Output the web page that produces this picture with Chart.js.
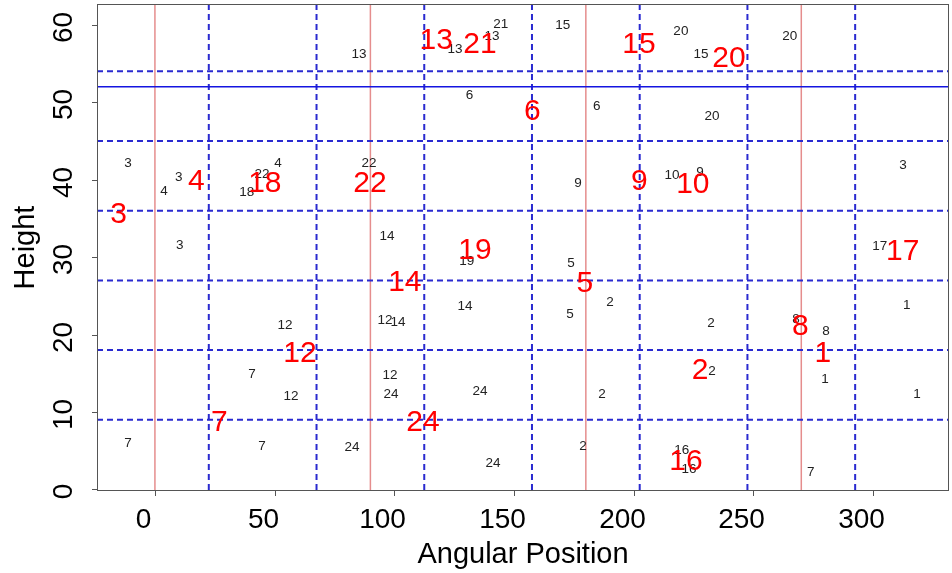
<!DOCTYPE html>
<html lang="en">
<head>
<meta charset="UTF-8">
<title>Height vs Angular Position</title>
<style>
  body { margin: 0; background: #fff; }
  canvas { display: block; }
</style>
</head>
<body>
<canvas id="chart" width="952" height="573"></canvas>
<script src="https://cdn.jsdelivr.net/npm/chart.js"></script>
<script>
// axis ticks
const xTicks = [0, 50, 100, 150, 200, 250, 300];
const yTicks = [0, 10, 20, 30, 40, 50, 60];

// reference lines
const redX = [0, 90, 180, 270];
const dashX = [22.5, 67.5, 112.5, 157.5, 202.5, 247.5, 292.5];
const dashY = [9, 18, 27, 36, 45, 54];
const solidY = [52];

// small black labels
const smallText = ["3", "3", "4", "22", "4", "18", "13", "22", "13", "21", "13", "15", "20", "15",
  "6", "6", "20", "9", "10", "9", "20", "3", "3", "14", "19", "14", "12", "12", "14", "12", "7",
  "5", "5", "2", "2", "8", "8", "17", "1", "1", "2", "7", "12", "24", "7", "24", "24", "2", "24",
  "2", "16", "16", "1", "7"];
const smallX = [-11.3, 10.0, 3.8, 44.7, 51.4, 38.4, 85.2, 89.4, 125.3, 144.5, 140.8, 170.4, 219.7, 228.1,
  131.4, 184.6, 232.7, 176.7, 216.0, 227.7, 265.2, 312.5, 10.4, 96.9, 130.3, 129.5, 54.3, 96.1, 101.5, 98.2, 40.5,
  173.8, 173.4, 190.1, 232.3, 267.8, 280.3, 302.8, 314.1, 279.9, 232.7, -11.3, 56.8, 98.6, 44.7, 82.3, 135.8, 186.7, 141.2,
  178.8, 220.1, 223.1, 318.3, 274.0];
const smallY = [42.3, 40.4, 38.7, 40.9, 42.3, 38.5, 56.4, 42.3, 57.0, 60.2, 58.7, 60.1, 59.3, 56.4,
  51.1, 49.6, 48.3, 39.7, 40.7, 41.1, 58.7, 42.0, 31.7, 32.9, 29.6, 23.8, 21.4, 22.0, 21.7, 14.9, 15.0,
  29.4, 22.8, 24.3, 21.6, 22.1, 20.6, 31.5, 23.9, 14.4, 15.4, 6.1, 12.2, 12.5, 5.7, 5.6, 12.8, 12.4, 3.5,
  5.7, 5.2, 2.8, 12.4, 2.3];

// big red labels
const bigText = ["3", "4", "18", "22", "13", "21", "6", "15", "20", "9", "10", "19", "14", "5",
  "17", "8", "1", "12", "2", "7", "24", "16"];
const bigX = [-15.2, 17.3, 45.9, 89.8, 117.5, 135.8, 157.7, 202.2, 239.8, 202.4, 224.7, 133.7, 104.4, 179.6,
  312.4, 269.6, 279.0, 60.6, 227.7, 26.9, 112.0, 221.8];
const bigY = [35.8, 40.1, 39.8, 39.8, 58.3, 57.8, 49.1, 57.8, 55.9, 40.1, 39.7, 31.2, 27.0, 26.9,
  31.0, 21.3, 17.9, 17.9, 15.6, 8.9, 8.9, 3.9];

const FONT = "'Liberation Sans', Arial, sans-serif";

function toPoints(xs, ys) {
  return xs.map((x, i) => ({ x: x, y: ys[i] }));
}

// grid / reference lines behind the labels
const refLines = {
  id: "refLines",
  beforeDatasetsDraw(chart) {
    const ctx = chart.ctx;
    const a = chart.chartArea;
    const xs = chart.scales.x, ys = chart.scales.y;
    ctx.save();
    ctx.beginPath();
    ctx.rect(a.left, a.top, a.right - a.left, a.bottom - a.top);
    ctx.clip();

    ctx.strokeStyle = "rgba(215, 80, 80, 0.65)";
    ctx.lineWidth = 1.5;
    redX.forEach(v => {
      const px = xs.getPixelForValue(v);
      ctx.beginPath(); ctx.moveTo(px, a.top); ctx.lineTo(px, a.bottom); ctx.stroke();
    });

    ctx.strokeStyle = "#2a2ad0";
    ctx.lineWidth = 2;
    ctx.setLineDash([6, 4]);
    dashX.forEach(v => {
      const px = xs.getPixelForValue(v);
      ctx.beginPath(); ctx.moveTo(px, a.top); ctx.lineTo(px, a.bottom); ctx.stroke();
    });
    dashY.forEach(v => {
      const py = ys.getPixelForValue(v);
      ctx.beginPath(); ctx.moveTo(a.left, py); ctx.lineTo(a.right, py); ctx.stroke();
    });

    ctx.setLineDash([]);
    ctx.strokeStyle = "#1515e0";
    ctx.lineWidth = 1.5;
    solidY.forEach(v => {
      const py = ys.getPixelForValue(v);
      ctx.beginPath(); ctx.moveTo(a.left, py); ctx.lineTo(a.right, py); ctx.stroke();
    });
    ctx.restore();
  }
};

// text at every point
const pointLabels = {
  id: "pointLabels",
  afterDatasetsDraw(chart) {
    const ctx = chart.ctx;
    chart.data.datasets.forEach((ds, i) => {
      const meta = chart.getDatasetMeta(i);
      ctx.save();
      ctx.font = ds.labelSize + "px " + FONT;
      ctx.fillStyle = ds.labelColor;
      ctx.textAlign = "center";
      ctx.textBaseline = "alphabetic";
      meta.data.forEach((el, j) => {
        ctx.fillText(ds.labels[j], el.x, el.y + ds.labelSize * 0.358);
      });
      ctx.restore();
    });
  }
};

// R-style box, ticks and titles
const axesBox = {
  id: "axesBox",
  beforeDraw(chart) {
    const ctx = chart.ctx;
    ctx.save();
    ctx.fillStyle = "#fff";
    ctx.fillRect(0, 0, chart.width, chart.height);
    ctx.restore();
  },
  afterDraw(chart) {
    const ctx = chart.ctx;
    const a = chart.chartArea;
    const xs = chart.scales.x, ys = chart.scales.y;
    ctx.save();
    ctx.strokeStyle = "#555";
    ctx.lineWidth = 1;
    ctx.strokeRect(a.left + 0.5, a.top + 0.5, a.right - a.left - 1, a.bottom - a.top - 1);

    ctx.fillStyle = "#000";
    ctx.font = "28px " + FONT;
    ctx.textAlign = "center";
    ctx.textBaseline = "alphabetic";
    xTicks.forEach(v => {
      const px = Math.round(xs.getPixelForValue(v)) + 0.5;
      ctx.beginPath(); ctx.moveTo(px, a.bottom); ctx.lineTo(px, a.bottom + 5); ctx.stroke();
      ctx.fillText(String(v), px - 12, 528);
    });
    yTicks.forEach(v => {
      const py = Math.round(ys.getPixelForValue(v)) + 0.5;
      ctx.beginPath(); ctx.moveTo(a.left, py); ctx.lineTo(a.left - 5, py); ctx.stroke();
      ctx.save();
      ctx.translate(72, py + 2);
      ctx.rotate(-Math.PI / 2);
      ctx.fillText(String(v), 0, 0);
      ctx.restore();
    });

    ctx.font = "29px " + FONT;
    ctx.fillText("Angular Position", (a.left + a.right) / 2, 563);
    ctx.save();
    ctx.translate(34, (a.top + a.bottom) / 2);
    ctx.rotate(-Math.PI / 2);
    ctx.fillText("Height", 0, 0);
    ctx.restore();
    ctx.restore();
  }
};

const ctx = document.getElementById("chart").getContext("2d");
new Chart(ctx, {
  type: "scatter",
  data: {
    datasets: [
      {
        data: toPoints(smallX, smallY),
        labels: smallText,
        labelSize: 13.5,
        labelColor: "#222",
        pointRadius: 0
      },
      {
        data: toPoints(bigX, bigY),
        labels: bigText,
        labelSize: 30,
        labelColor: "#ff0000",
        pointRadius: 0
      }
    ]
  },
  options: {
    responsive: false,
    animation: false,
    layout: { padding: { left: 97, right: 3, top: 4, bottom: 82 } },
    scales: {
      x: { type: "linear", display: false, min: -24.2, max: 331.7 },
      y: { type: "linear", display: false, min: -0.2, max: 62.7 }
    },
    plugins: {
      legend: { display: false },
      tooltip: { enabled: false }
    }
  },
  plugins: [axesBox, refLines, pointLabels]
});
</script>
</body>
</html>
